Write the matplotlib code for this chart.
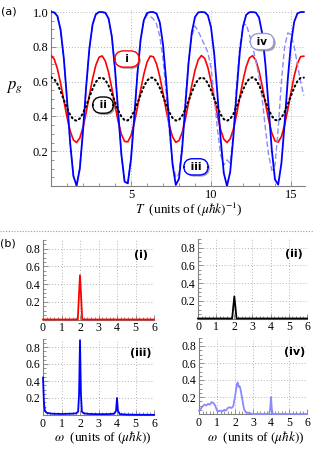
import matplotlib
matplotlib.use('Agg')
import matplotlib.pyplot as plt
import numpy as np
from matplotlib import patheffects as pe
from matplotlib.ticker import MultipleLocator

plt.rcParams['mathtext.fontset'] = 'stix'
plt.rcParams['font.family'] = ['Liberation Serif', 'DejaVu Serif']

# ---------------- data: panel (a) ----------------
T = np.arange(80) * 0.2   # sampling grid, T = 0 ... 15.8

p_i = [0.750, 0.730, 0.674, 0.591, 0.493, 0.396, 0.316, 0.264, 0.250, 0.276,
       0.337, 0.423, 0.522, 0.617, 0.694, 0.740, 0.748, 0.717, 0.652, 0.563,
       0.464, 0.370, 0.297, 0.256, 0.254, 0.290, 0.360, 0.451, 0.551, 0.642,
       0.711, 0.747, 0.743, 0.701, 0.628, 0.534, 0.435, 0.346, 0.282, 0.251,
       0.261, 0.308, 0.385, 0.480, 0.579, 0.665, 0.725, 0.750, 0.735, 0.683,
       0.602, 0.505, 0.407, 0.324, 0.269, 0.250, 0.271, 0.327, 0.411, 0.510,
       0.606, 0.686, 0.736, 0.749, 0.723, 0.662, 0.575, 0.476, 0.381, 0.305,
       0.259, 0.252, 0.284, 0.350, 0.439, 0.539, 0.632, 0.704, 0.744, 0.746]

p_ii = [0.625, 0.615, 0.587, 0.545, 0.496, 0.448, 0.408, 0.382, 0.375, 0.388,
        0.418, 0.462, 0.511, 0.559, 0.597, 0.620, 0.624, 0.609, 0.576, 0.531,
        0.482, 0.435, 0.399, 0.378, 0.377, 0.395, 0.430, 0.476, 0.525, 0.571,
        0.605, 0.623, 0.622, 0.601, 0.564, 0.517, 0.468, 0.423, 0.391, 0.376,
        0.380, 0.404, 0.443, 0.490, 0.539, 0.583, 0.613, 0.625, 0.617, 0.591,
        0.551, 0.503, 0.454, 0.412, 0.384, 0.375, 0.385, 0.414, 0.456, 0.505,
        0.553, 0.593, 0.618, 0.625, 0.612, 0.581, 0.537, 0.488, 0.440, 0.402,
        0.380, 0.376, 0.392, 0.425, 0.470, 0.519, 0.566, 0.602, 0.622, 0.623]

p_iii = [1.000, 0.998, 0.977, 0.898, 0.735, 0.499, 0.245, 0.057, 0.002, 0.100,
         0.316, 0.573, 0.792, 0.929, 0.987, 1.000, 1.000, 0.996, 0.962, 0.860,
         0.672, 0.423, 0.180, 0.025, 0.015, 0.154, 0.391, 0.643, 0.841, 0.953,
         0.994, 1.000, 1.000, 0.991, 0.940, 0.814, 0.603, 0.348, 0.122, 0.006,
         0.042, 0.217, 0.467, 0.709, 0.883, 0.971, 0.998, 1.000, 0.999, 0.982,
         0.913, 0.760, 0.530, 0.275, 0.074, 0.000, 0.081, 0.286, 0.542, 0.769,
         0.917, 0.984, 0.999, 1.000, 0.997, 0.969, 0.877, 0.700, 0.455, 0.207,
         0.037, 0.008, 0.130, 0.359, 0.614, 0.821, 0.944, 0.992, 1.000, 1.000]

p_iv = [1.000, 0.998, 0.977, 0.898, 0.735, 0.499, 0.245, 0.057, 0.004, 0.100,
        0.316, 0.573, 0.792, 0.929, 0.987, 1.000, 0.998, 0.994, 0.960, 0.858,
        0.670, 0.423, 0.182, 0.030, 0.020, 0.154, 0.391, 0.643, 0.840, 0.950,
        0.985, 0.975, 0.960, 0.930, 0.860, 0.730, 0.530, 0.310, 0.130, 0.050,
        0.070, 0.240, 0.500, 0.720, 0.860, 0.920, 0.890, 0.850, 0.810, 0.770,
        0.680, 0.520, 0.330, 0.180, 0.120, 0.150, 0.130, 0.300, 0.580, 0.800,
        0.920, 0.930, 0.870, 0.800, 0.720, 0.630, 0.500, 0.330, 0.180, 0.090,
        0.120, 0.330, 0.600, 0.800, 0.880, 0.870, 0.800, 0.700, 0.600, 0.520]

# ---------------- data: panel (b) spectra ----------------
w_i = [0.0, 1.88, 1.95, 2.0, 2.05, 2.12, 6.0]
s_i = [0.0, 0.0, 0.30, 0.50, 0.30, 0.0, 0.0]

w_ii = [0.0, 1.88, 1.95, 2.0, 2.05, 2.12, 6.0]
s_ii = [0.0, 0.0, 0.15, 0.25, 0.15, 0.0, 0.0]

w_iii = [0.0, 0.05, 0.1, 0.2, 0.5, 1.0, 1.5, 1.8, 1.9, 1.95, 2.0, 2.05, 2.1,
         2.2, 2.5, 3.0, 3.5, 3.85, 3.95, 4.0, 4.05, 4.15, 4.5, 5.0, 6.0]
s_iii = [0.44, 0.15, 0.05, 0.025, 0.015, 0.012, 0.015, 0.02, 0.04, 0.25, 0.88,
         0.25, 0.04, 0.02, 0.012, 0.01, 0.01, 0.015, 0.05, 0.20, 0.05, 0.01,
         0.005, 0.003, 0.002]

w_iv = [0.0, 0.1, 0.2, 0.3, 0.4, 0.5, 0.6, 0.7, 0.8, 0.9, 1.0, 1.1, 1.2, 1.3,
        1.4, 1.5, 1.6, 1.7, 1.8, 1.9, 2.0, 2.1, 2.15, 2.2, 2.25, 2.3, 2.4, 2.5,
        2.6, 2.8, 3.0, 3.9, 3.95, 4.0, 4.05, 4.1, 5.0, 6.0]
s_iv = [0.04, 0.06, 0.09, 0.11, 0.10, 0.12, 0.11, 0.14, 0.13, 0.10, 0.04, 0.03,
        0.04, 0.03, 0.05, 0.04, 0.07, 0.08, 0.07, 0.09, 0.20, 0.35, 0.37, 0.32,
        0.33, 0.30, 0.18, 0.06, 0.02, 0.01, 0.0, 0.0, 0.05, 0.20, 0.05, 0.0,
        0.0, 0.0]

spec_tags = ['(i)', '(ii)', '(iii)', '(iv)']

BLUE = '#0000ff'
RED = '#ff0000'
LBLUE = '#8a8aff'
GRID = '#b4b4b4'
AX = '#808080'

W, H = 314, 451
fig = plt.figure(figsize=(W / 100, H / 100), dpi=100)


def px_axes(left, bottom, width, height):
    return fig.add_axes([left / W, 1 - bottom / H, width / W, height / H])


def style(ax, fs):
    for s in ['top', 'right']:
        ax.spines[s].set_visible(False)
    for s in ['left', 'bottom']:
        ax.spines[s].set_color(AX)
        ax.spines[s].set_linewidth(0.8)
    ax.tick_params(which='both', direction='in', color=AX, width=0.6,
                   labelsize=fs)
    ax.tick_params(which='major', length=3.5)
    ax.tick_params(which='minor', length=2)
    ax.tick_params(axis='x', pad=2)
    ax.tick_params(axis='y', pad=2)


# ---------------- panel (a) ----------------
axa = px_axes(51, 186, 254.4, 175.7)
axa.set_xlim(0, 15.9)
axa.set_ylim(0, 1.01)
style(axa, 9)
for xv in [5, 10, 15]:
    axa.axvline(xv, color=GRID, lw=0.7, ls=(0, (1, 2)), zorder=0)
for yv in [0.2, 0.4, 0.6, 0.8, 1.0]:
    axa.axhline(yv, color=GRID, lw=0.7, ls=(0, (1, 2)), zorder=0)
axa.set_xticks([5, 10, 15])
axa.set_xticklabels(['5', '10', '15'])
axa.xaxis.set_minor_locator(MultipleLocator(1))
axa.set_yticks([0.2, 0.4, 0.6, 0.8, 1.0])
axa.set_yticklabels(['0.2', '0.4', '0.6', '0.8', '1.0'])
axa.yaxis.set_minor_locator(MultipleLocator(0.05))

axa.plot(T, p_i, color=RED, lw=1.2, zorder=3)
axa.plot(T, p_iv, color=LBLUE, lw=1.0, ls=(0, (4, 2)), zorder=4)
axa.plot(T, p_iii, color=BLUE, lw=1.3, zorder=5)
axa.plot(T, p_ii, color='black', lw=1.5, ls=(0, (0.6, 1.6)),
         dash_capstyle='round', zorder=6)


def tag(ax, x, y, s, ec):
    t = ax.text(x, y, s, ha='center', va='center', fontsize=7.5,
                fontweight='bold', family='DejaVu Sans', zorder=10,
                bbox=dict(boxstyle='round,pad=0.3,rounding_size=0.85',
                          fc='white', ec=ec, lw=1.0))
    t.get_bbox_patch().set_path_effects(
        [pe.SimplePatchShadow(offset=(1.2, -1.2), shadow_rgbFace='0.35',
                              alpha=0.55), pe.Normal()])


tag(axa, 4.75, 0.73, '  i  ', RED)
tag(axa, 3.25, 0.465, ' ii ', 'black')
tag(axa, 9.06, 0.11, ' iii ', BLUE)
tag(axa, 13.2, 0.83, ' iv ', '#9a9ad8')

fig.text(0.6019, 1 - 210 / H, r'$T$  (units of $(\mu\hbar k)^{-1}$)',
         ha='center', va='center', fontsize=9.5)
fig.text(15 / W, 1 - 87 / H, r'$p_g$', ha='center', va='center', fontsize=12)
fig.text(9 / W, 1 - 11 / H, '(a)', ha='center', va='center', fontsize=8,
         family='DejaVu Sans')
fig.text(8 / W, 1 - 244 / H, '(b)', ha='center', va='center', fontsize=8,
         family='DejaVu Sans')
fig.add_artist(plt.Line2D([0, 1], [1 - 231 / H, 1 - 231 / H],
                          color='#999999', lw=0.8, ls=(0, (1, 1.5)),
                          transform=fig.transFigure))

# ---------------- panel (b) ----------------
boxes = [(43, 319.5, 111, 79.6), (198, 318.5, 109, 79.6),
         (43, 415, 111, 76.5), (199, 414, 108, 76.5)]
series = [(w_i, s_i, RED), (w_ii, s_ii, 'black'),
          (w_iii, s_iii, BLUE), (w_iv, s_iv, LBLUE)]
for (l, b, wd, ht), (wx, sy, col), lab in zip(boxes, series, spec_tags):
    ax = px_axes(l, b, wd, ht)
    ax.set_xlim(0, 6)
    ax.set_ylim(0, 0.9)
    style(ax, 8.5)
    for xv in [1, 2, 3, 4, 5, 6]:
        ax.axvline(xv, color=GRID, lw=0.7, ls=(0, (1, 2)), zorder=0)
    for yv in [0.2, 0.4, 0.6, 0.8]:
        ax.axhline(yv, color=GRID, lw=0.7, ls=(0, (1, 2)), zorder=0)
    ax.set_xticks([0, 1, 2, 3, 4, 5, 6])
    ax.set_xticklabels(['0', '1', '2', '3', '4', '5', '6'])
    ax.xaxis.set_minor_locator(MultipleLocator(0.2))
    ax.set_yticks([0.2, 0.4, 0.6, 0.8])
    ax.set_yticklabels(['0.2', '0.4', '0.6', '0.8'])
    ax.yaxis.set_minor_locator(MultipleLocator(0.05))
    ax.plot(wx, sy, color=col, lw=1.3, zorder=3, clip_on=False)
    ax.text(5.3, 0.73, lab, ha='center', va='center', fontsize=8,
            fontweight='bold', family='DejaVu Sans')

fig.text(103 / W, 1 - 438 / H, r'$\omega$  (units of $(\mu\hbar k)$)',
         ha='center', va='center', fontsize=9.5)
fig.text(256 / W, 1 - 438 / H, r'$\omega$  (units of $(\mu\hbar k)$)',
         ha='center', va='center', fontsize=9.5)

fig.savefig('out.png', dpi=100)
